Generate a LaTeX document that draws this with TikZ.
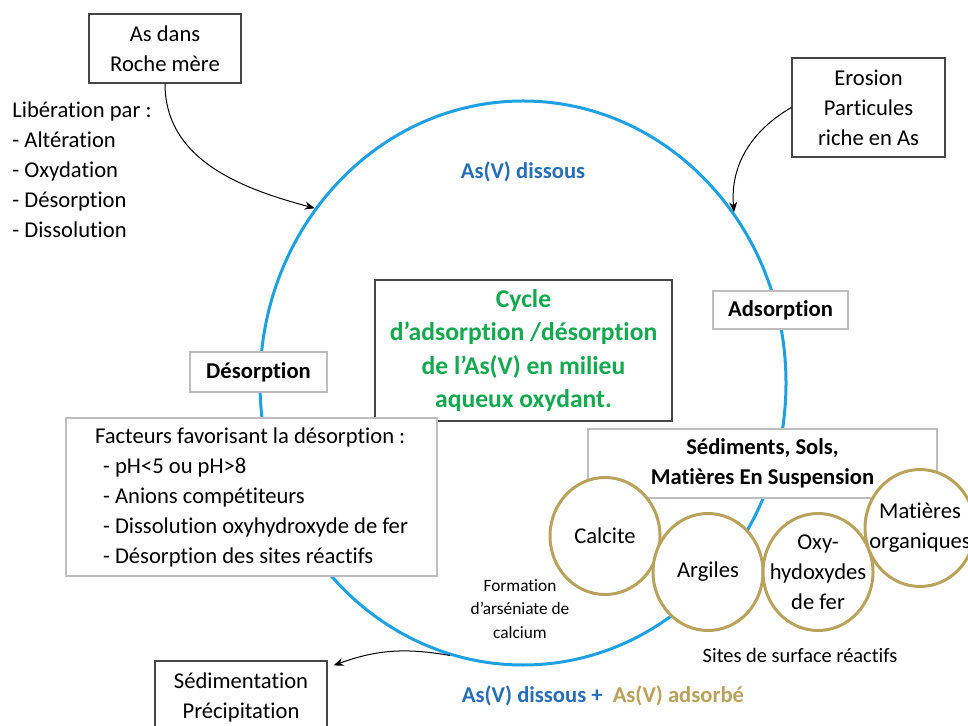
\documentclass[tikz,border=0pt]{standalone}
\usepackage{fontspec}
\setmainfont{Carlito}[Ligatures={TeX,NoCommon}]
\usetikzlibrary{shapes.geometric,arrows.meta}

\definecolor{cycleblue}{RGB}{30,160,225}
\definecolor{dissousblue}{RGB}{40,110,180}
\definecolor{cyclegreen}{RGB}{20,168,80}
\definecolor{sitegold}{RGB}{184,162,92}
\definecolor{lightframe}{RGB}{190,190,190}
\definecolor{darkframe}{RGB}{70,70,70}

\tikzset{
  txt/.style={font=\fontsize{11.3}{15}\selectfont, align=center, inner sep=0pt},
  boldtxt/.style={txt, font=\fontsize{11.3}{15}\selectfont\bfseries},
  sourcebox/.style={txt, draw=darkframe, line width=0.6pt, fill=white},
  labelbox/.style={boldtxt, draw=lightframe, line width=0.6pt, fill=white},
  sitecircle/.style={ellipse, draw=sitegold, line width=1.5pt, fill=white,
    inner sep=0pt, minimum width=55pt, minimum height=58.5pt},
  flow/.style={-{Stealth[length=5pt,width=4pt]}, line width=0.5pt},
}

\begin{document}
\begin{tikzpicture}[x=0.5pt, y=-0.5pt]
  \useasboundingbox (0,0) rectangle (968,726);
  % Draw the cycle of dissolved As(V).
  \node[ellipse, draw=cycleblue, line width=1.5pt, inner sep=0pt,
    minimum width=263pt, minimum height=282pt] (cycle) at (523,383) {};
  \node[boldtxt, text=dissousblue] (dissous) at (523,172) {As(V) dissous};
  % Sources of arsenic.
  \node[sourcebox, minimum width=76pt, minimum height=34.5pt] (roche)
    at (165,48.5) {As dans\\Roche mère};
  \node[txt, anchor=west, align=left] (liberation) at (12,170)
    {Libération par :\\- Altération\\- Oxydation\\- Désorption\\- Dissolution};
  \node[sourcebox, minimum width=76.5pt, minimum height=49.5pt] (erosion)
    at (868.5,107.5) {Erosion\\Particules\\riche en As};
  % Title in the middle.
  \node[sourcebox, minimum width=148.5pt, minimum height=70.5pt,
    text=cyclegreen, font=\fontsize{12.8}{16.75}\selectfont\bfseries] (titre)
    at (523.5,350.5) {Cycle\\d’adsorption /désorption\\de l’As(V) en milieu\\aqueux oxydant.};
  % Annotate the two halves of the cycle.
  \node[labelbox, minimum width=67.5pt, minimum height=19pt] (adsorption)
    at (780.5,310) {Adsorption};
  \node[labelbox, minimum width=68.5pt, minimum height=20pt] (desorption)
    at (258.5,372) {Désorption};
  \node[txt, draw=lightframe, line width=0.6pt, fill=white, align=left,
    minimum width=185.5pt, minimum height=79pt] (facteurs) at (251.5,497)
    {Facteurs favorisant la désorption :\\
     \hspace*{4pt}- pH<5 ou pH>8\\
     \hspace*{4pt}- Anions compétiteurs\\
     \hspace*{4pt}- Dissolution oxyhydroxyde de fer\\
     \hspace*{4pt}- Désorption des sites réactifs};
  \node[labelbox, minimum width=174.5pt, minimum height=34.5pt] (sediments)
    at (762.5,463.5) {Sédiments, Sols,\\Matières En Suspension};
  % Reactive surface sites.
  \node[sitecircle] (calcite) at (605,536) {};
  \node[txt] (calcitetxt) at (calcite) {Calcite};
  \node[sitecircle] (argiles) at (708,572) {};
  \node[txt] (argilestxt) at (argiles) {Argiles};
  \node[sitecircle] (oxy) at (818,572) {};
  \node[txt] (oxytxt) at (oxy) {Oxy-\\hydoxydes\\de fer};
  \node[sitecircle] (matieres) at (920,528) {};
  \node[txt] (matierestxt) at (matieres) {Matières\\organiques};
  \node[txt, font=\fontsize{10.2}{13}\selectfont] (sites) at (800,655)
    {Sites de surface réactifs};
  \node[txt, font=\fontsize{8.65}{11.75}\selectfont] (formation) at (520,609)
    {Formation\\d’arséniate de\\calcium};
  % Outcome at the bottom.
  \node[boldtxt] (bilan) at (603,696)
    {\textcolor{dissousblue}{As(V) dissous +}\hspace{0.45em}\textcolor{sitegold}{As(V) adsorbé}};
  \node[sourcebox, minimum width=86pt, minimum height=36pt] (sedimentation)
    at (241,697) {Sédimentation\\Précipitation};
  \coordinate (depot) at ([shift={(6,5)}]sedimentation.north east);
  % Arrows in and out of the cycle.
  \draw[flow] (roche.south) to[out=-90, in=165] (cycle.140);
  \draw[flow] (erosion.west) to[out=210, in=95] (cycle.39);
  \draw[flow] (cycle.255) to[out=170, in=20] (depot);
\end{tikzpicture}
\end{document}
